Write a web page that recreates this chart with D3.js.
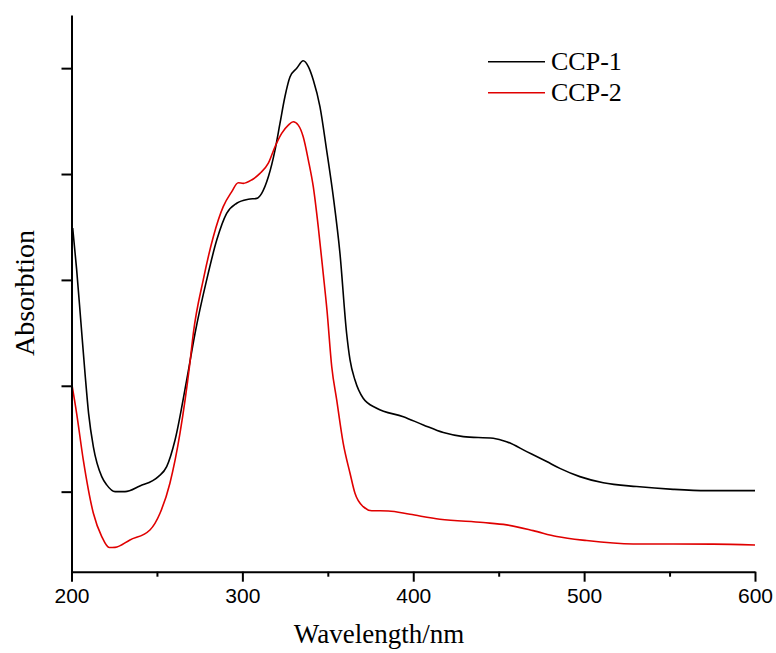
<!DOCTYPE html>
<html>
<head>
<meta charset="utf-8">
<script src="https://cdn.jsdelivr.net/npm/d3@7"></script>
<style>
html,body{margin:0;padding:0;background:#fff;}
svg{display:block;}
</style>
</head>
<body>
<svg id="chart" width="776" height="653"></svg>
<script>
// ---- data ----
const seriesNames = ["CCP-1", "CCP-2"];
const seriesColors = ["#000000", "#e00000"];

const ccp1Wavelength = [200.7,203,205.5,208,210,212.8,217.7,220.6,225.5,231.3,240,250.8,255.7,260.6,267.4,272.3,279.1,285,290.8,296.7,303.5,308.4,311.3,315.2,319.1,322,324.9,327.9,331.8,335.6,338.6,341.5,345.4,349.3,353.2,357.1,361,363,365.9,370.7,378.6,394.2,405.9,417.6,429.3,446.8,454.6,466.4,478.1,485.8,497.5,511.2,530.7,552.1,571.7,600];
const ccp1Absorb = [1.245,1.05,0.80,0.55,0.37,0.212,0.071,0.032,0.000,0.000,0.027,0.071,0.118,0.244,0.527,0.748,1.000,1.188,1.314,1.362,1.381,1.385,1.409,1.487,1.613,1.739,1.865,1.959,1.999,2.035,2.007,1.944,1.818,1.613,1.393,1.126,0.748,0.622,0.527,0.441,0.394,0.354,0.315,0.279,0.260,0.252,0.236,0.189,0.142,0.110,0.071,0.042,0.024,0.011,0.005,0.005];

const ccp2Wavelength = [200.1,203,206.9,212.8,217.7,222.1,225.5,234.2,245.9,251.8,257.6,263.5,269.3,271.3,277.1,283,288.8,293.7,297.6,300.5,305.4,310.3,315.2,319.1,323,326.9,329.8,332.7,335.6,338.6,341.5,344.4,347.3,349.5,352.3,355.2,359,363,365.9,370.7,375.7,385.4,398.1,415.6,441,454.6,470.2,484,501.5,528.7,575.5,600];
const ccp2Absorb = [0.512,0.370,0.150,-0.102,-0.212,-0.264,-0.263,-0.228,-0.181,-0.102,0.040,0.276,0.608,0.748,1.000,1.204,1.346,1.416,1.459,1.456,1.472,1.503,1.551,1.629,1.692,1.731,1.747,1.731,1.676,1.566,1.440,1.251,1.031,0.858,0.590,0.433,0.229,0.087,-0.008,-0.071,-0.090,-0.091,-0.107,-0.130,-0.146,-0.157,-0.184,-0.212,-0.231,-0.247,-0.248,-0.252];

const xTickValues = [200, 300, 400, 500, 600];
const xMinorTickValues = [250, 350, 450, 550];
const yTickValues = [0, 0.5, 1.0, 1.5, 2.0];
const xDomain = [200, 600];
const yDomain = [-0.378, 2.251];
const xTitle = "Wavelength/nm";
const yTitle = "Absorbtion";

// ---- layout ----
const svg = d3.select("#chart");
const mLeft = 71.5, mRight = 755, mTop = 15, mBottom = 571.7;

const x = d3.scaleLinear().domain(xDomain).range([mLeft, mRight]);
const y = d3.scaleLinear().domain(yDomain).range([mBottom, mTop]);

const series = [
  ccp1Wavelength.map((w, i) => ({w, a: ccp1Absorb[i]})),
  ccp2Wavelength.map((w, i) => ({w, a: ccp2Absorb[i]}))
];

const line = d3.line().x(d => x(d.w)).y(d => y(d.a)).curve(d3.curveMonotoneX);

// curves
svg.append("g").selectAll("path").data(series).join("path")
  .attr("d", line)
  .attr("fill", "none")
  .attr("stroke", (d, i) => seriesColors[i])
  .attr("stroke-width", 1.6)
  .attr("stroke-linejoin", "round");

// x axis
const xAxis = svg.append("g").attr("transform", `translate(0,${mBottom})`)
  .call(d3.axisBottom(x).tickValues(xTickValues).tickSize(10).tickSizeOuter(0).tickFormat(d3.format("d")).tickPadding(6));
xAxis.select(".domain").attr("stroke-width", 2);
xAxis.selectAll(".tick line").attr("stroke-width", 2);
xAxis.selectAll(".tick text").attr("font-family", "'Liberation Sans', Arial, sans-serif").attr("font-size", 21).attr("fill", "#000");
svg.append("g").attr("transform", `translate(0,${mBottom})`)
  .call(d3.axisBottom(x).tickValues(xMinorTickValues).tickSize(5).tickSizeOuter(0).tickFormat(""))
  .call(g => g.select(".domain").remove())
  .selectAll(".tick line").attr("stroke-width", 2);

// y axis
const yAxis = svg.append("g").attr("transform", `translate(${mLeft},0)`)
  .call(d3.axisLeft(y).tickValues(yTickValues).tickSize(10).tickSizeOuter(0).tickFormat(""));
yAxis.select(".domain").attr("stroke-width", 2);
yAxis.selectAll(".tick line").attr("stroke-width", 2);

// titles
svg.append("text").attr("x", 379).attr("y", 643)
  .attr("text-anchor", "middle")
  .attr("font-family", "'Liberation Serif', 'Times New Roman', serif")
  .attr("font-size", 27).text(xTitle);

svg.append("text").attr("transform", "translate(33.5,293) rotate(-90)")
  .attr("text-anchor", "middle")
  .attr("font-family", "'Liberation Serif', 'Times New Roman', serif")
  .attr("font-size", 28).text(yTitle);

// legend
const legend = svg.append("g");
seriesNames.forEach((name, i) => {
  const ly = 61.7 + i * 31;
  legend.append("line").attr("x1", 488).attr("x2", 545).attr("y1", ly).attr("y2", ly)
    .attr("stroke", seriesColors[i]).attr("stroke-width", 1.6);
  legend.append("text").attr("x", 551).attr("y", ly + 8.5)
    .attr("font-family", "'Liberation Serif', 'Times New Roman', serif")
    .attr("font-size", 26).text(name);
});
</script>
</body>
</html>
